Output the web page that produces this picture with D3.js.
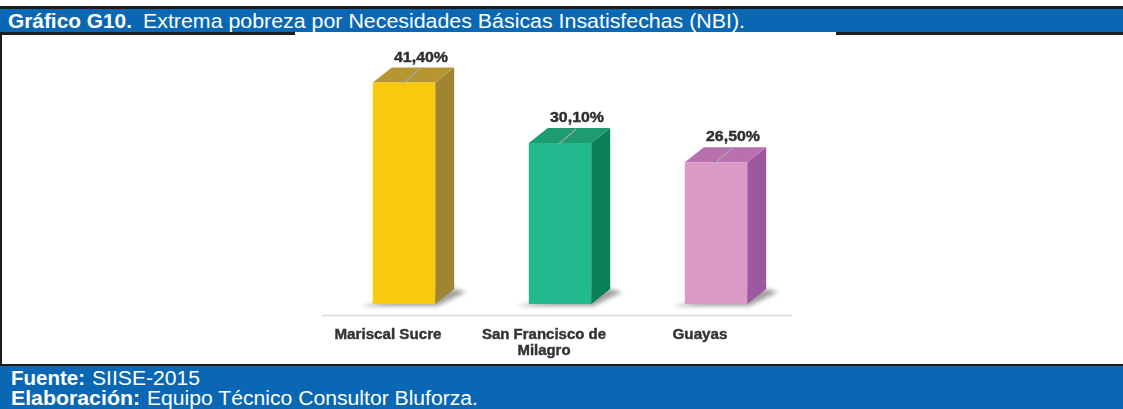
<!DOCTYPE html>
<html>
<head>
<meta charset="utf-8">
<script src="https://cdn.jsdelivr.net/npm/d3@7"></script>
<style>
  body { margin: 0; background: #fff; }
  svg { display: block; font-family: "Liberation Sans", Arial, sans-serif; }
</style>
</head>
<body>
<div id="chart"></div>
<script>
// data
var categories = [["Mariscal Sucre"], ["San Francisco de", "Milagro"], ["Guayas"]];
var values = [41.4, 30.1, 26.5];
var valueLabels = ["41,40%", "30,10%", "26,50%"];
var frontColors = ["#f9c90e", "#22b98f", "#d99bc6"];
var topColors = ["#b69530", "#1a9c70", "#b86fae"];
var sideColors = ["#9f8433", "#0b7f56", "#9d58a2"];

var W = 1123, H = 409;
var blue = "#0a67b3", dark = "#1d1d1f";

var svg = d3.select("#chart").append("svg")
  .attr("width", W)
  .attr("height", H);

var defs = svg.append("defs");
defs.append("filter").attr("id", "blur")
  .attr("x", "-20%").attr("y", "-50%").attr("width", "140%").attr("height", "200%")
  .append("feGaussianBlur").attr("stdDeviation", 2.2);
defs.append("filter").attr("id", "soft")
  .append("feGaussianBlur").attr("stdDeviation", 0.35);

// header band
svg.append("rect").attr("x", 0).attr("y", 6).attr("width", W).attr("height", 3).attr("fill", dark);
svg.append("rect").attr("x", 0).attr("y", 9).attr("width", W).attr("height", 23).attr("fill", blue);
svg.append("rect").attr("x", 0).attr("y", 32).attr("width", 295).attr("height", 3).attr("fill", dark);
svg.append("rect").attr("x", 836).attr("y", 32).attr("width", W - 836).attr("height", 3).attr("fill", dark);

svg.append("text").attr("x", 8).attr("y", 28)
  .attr("fill", "#fff").style("font-size", "20px").style("font-weight", "bold")
  .attr("textLength", 124).attr("lengthAdjust", "spacingAndGlyphs")
  .text("Gráfico G10.");
svg.append("text").attr("x", 143).attr("y", 28)
  .attr("fill", "#fff").style("font-size", "20px")
  .attr("textLength", 602).attr("lengthAdjust", "spacingAndGlyphs")
  .text("Extrema pobreza por Necesidades Básicas Insatisfechas (NBI).");

// left border and footer
svg.append("rect").attr("x", 0).attr("y", 34).attr("width", 2).attr("height", 332).attr("fill", dark);
svg.append("rect").attr("x", 0).attr("y", 364).attr("width", W).attr("height", 2).attr("fill", dark);
svg.append("rect").attr("x", 0).attr("y", 366).attr("width", W).attr("height", H - 366).attr("fill", blue);

var foot = [
  {b: "Fuente:", bw: 74, t: "SIISE-2015", tx: 92, tw: 108, y: 385},
  {b: "Elaboración:", bw: 129, t: "Equipo Técnico Consultor Bluforza.", tx: 147, tw: 331, y: 405}
];
foot.forEach(function(f) {
  svg.append("text").attr("x", 11).attr("y", f.y)
    .attr("fill", "#fff").style("font-size", "19.5px").style("font-weight", "bold")
    .attr("textLength", f.bw).attr("lengthAdjust", "spacingAndGlyphs")
    .text(f.b);
  svg.append("text").attr("x", f.tx).attr("y", f.y)
    .attr("fill", "#fff").style("font-size", "19.5px")
    .attr("textLength", f.tw).attr("lengthAdjust", "spacingAndGlyphs")
    .text(f.t);
});

// scales
var x = d3.scaleBand()
  .domain(d3.range(values.length))
  .range([326, 794])
  .paddingInner(0.6)
  .paddingOuter(0.3);

var y = d3.scaleLinear()
  .domain([0, 45])
  .range([304, 63.3]);

var dx = 19, dy = -15; // 3d depth

// baseline
svg.append("line")
  .attr("x1", 322).attr("x2", 792)
  .attr("y1", 315.5).attr("y2", 315.5)
  .style("stroke", "#dcdcdc")
  .style("stroke-width", 1.5);

var bars = svg.append("g").selectAll("g")
  .data(values)
  .enter().append("g");

// shadows
bars.append("polygon")
  .attr("points", function(d, i) {
    var x0 = x(i), x1 = x(i) + x.bandwidth(), b = y(0);
    return [[x0 - 12, b + 2], [x1 + 2, b + 2], [x1 + dx + 12, b + dy + 3], [x1 + dx, b + dy]].join(" ");
  })
  .attr("fill", "#8a8a8a")
  .attr("opacity", 0.8)
  .attr("filter", "url(#blur)");

// side face
bars.append("polygon")
  .attr("points", function(d, i) {
    var x1 = x(i) + x.bandwidth();
    return [[x1, y(d)], [x1 + dx, y(d) + dy], [x1 + dx, y(0) + dy], [x1, y(0)]].join(" ");
  })
  .attr("fill", function(d, i) { return sideColors[i]; })
  .attr("filter", "url(#soft)");

// top face
bars.append("polygon")
  .attr("points", function(d, i) {
    var x0 = x(i), x1 = x(i) + x.bandwidth();
    return [[x0, y(d)], [x0 + dx, y(d) + dy], [x1 + dx, y(d) + dy], [x1, y(d)]].join(" ");
  })
  .attr("fill", function(d, i) { return topColors[i]; })
  .attr("filter", "url(#soft)");

// front face
bars.append("rect")
  .attr("x", function(d, i) { return x(i); })
  .attr("y", function(d) { return y(d); })
  .attr("width", x.bandwidth())
  .attr("height", function(d) { return y(0) - y(d); })
  .attr("fill", function(d, i) { return frontColors[i]; })
  .attr("filter", "url(#soft)");

// leader lines
bars.append("line")
  .attr("x1", function(d, i) { return x(i) + x.bandwidth() / 2 - 1; })
  .attr("y1", function(d) { return y(d) + 1; })
  .attr("x2", function(d, i) { return x(i) + x.bandwidth() / 2 + 16; })
  .attr("y2", function(d) { return y(d) - 14; })
  .style("stroke", "#a8a8a8")
  .style("stroke-width", 1.2);

// value labels
bars.append("text")
  .attr("x", function(d, i) { return x(i) + x.bandwidth() / 2 + 17; })
  .attr("y", function(d) { return y(d) - 21; })
  .attr("text-anchor", "middle")
  .attr("textLength", 54)
  .attr("lengthAdjust", "spacingAndGlyphs")
  .style("font-size", "14.5px")
  .style("font-weight", "bold")
  .style("fill", "#2e2e2e")
  .style("stroke", "#2e2e2e")
  .style("stroke-width", 0.4)
  .attr("filter", "url(#soft)")
  .text(function(d, i) { return valueLabels[i]; });

// category labels
var catWidths = [[107], [124, 53], [55]];
bars.each(function(d, i) {
  var g = d3.select(this);
  categories[i].forEach(function(line, j) {
    g.append("text")
      .attr("x", x(i) + x.bandwidth() / 2 - 16)
      .attr("y", 339 + j * 16)
      .attr("text-anchor", "middle")
      .attr("textLength", catWidths[i][j])
      .attr("lengthAdjust", "spacingAndGlyphs")
      .style("font-size", "14px")
      .style("font-weight", "bold")
      .style("fill", "#333")
      .style("stroke", "#333")
      .style("stroke-width", 0.4)
      .attr("filter", "url(#soft)")
      .text(line);
  });
});
</script>
</body>
</html>
